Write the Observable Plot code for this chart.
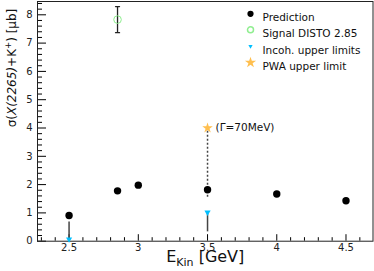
<!DOCTYPE html>
<html><head><meta charset="utf-8">
<script src="https://cdn.jsdelivr.net/npm/d3@7"></script>
<script src="https://cdn.jsdelivr.net/npm/@observablehq/plot@0.6"></script>
<style>
body{margin:0;background:#fff}
svg{display:block;font-family:"DejaVu Sans",sans-serif}
</style>
</head><body><div id="chart"></div>
<script>
// Prediction
const predE = [2.5, 2.85, 3.0, 3.5, 4.0, 4.5];
const predSigma = [0.91, 1.78, 1.98, 1.82, 1.67, 1.43];
// Signal DISTO 2.85
const distoE = [2.85];
const distoSigma = [7.83];
const distoErr = [0.46];
// Incoherent upper limits
const incohE = [2.5, 3.5];
const incohSigma = [0.07, 1.02];
const incohLow = [0.07, 0.33];
const incohHigh = [0.68, 1.02];
// PWA upper limit
const pwaE = [3.5];
const pwaSigma = [4.0];
const pwaLow = [1.55];
const pwaNote = ["(Γ=70MeV)"];
// ticks & labels
const xTicks = [2.5, 3, 3.5, 4, 4.5];
const yTicks = [0, 1, 2, 3, 4, 5, 6, 7, 8];
const xMinor = [2.3, 2.4, 2.6, 2.7, 2.8, 2.9, 3.1, 3.2, 3.3, 3.4, 3.6, 3.7, 3.8, 3.9, 4.1, 4.2, 4.3, 4.4, 4.6];
const yMinor = [0.2,0.4,0.6,0.8,1.2,1.4,1.6,1.8,2.2,2.4,2.6,2.8,3.2,3.4,3.6,3.8,4.2,4.4,4.6,4.8,5.2,5.4,5.6,5.8,6.2,6.4,6.6,6.8,7.2,7.4,7.6,7.8,8.2,8.4];
const legendLabels = ["Prediction", "Signal DISTO 2.85", "Incoh. upper limits", "PWA upper limit"];
const xLabel = "E_Kin [GeV]";
const yLabel = "σ(X(2265)+K+) [μb]";

const pred = predE.map((e, i) => ({e, s: predSigma[i]}));
const disto = distoE.map((e, i) => ({e, s: distoSigma[i], lo: distoSigma[i] - distoErr[i], hi: distoSigma[i] + distoErr[i]}));
const incoh = incohE.map((e, i) => ({e, s: incohSigma[i], lo: incohLow[i], hi: incohHigh[i]}));
const pwa = pwaE.map((e, i) => ({e, s: pwaSigma[i], lo: pwaLow[i], note: pwaNote[i]}));

const triDown = {draw(ctx, size) {
  const y = Math.sqrt(size / (Math.sqrt(3) * 3));
  ctx.moveTo(0, 2 * y); ctx.lineTo(-Math.sqrt(3) * y, -y); ctx.lineTo(Math.sqrt(3) * y, -y); ctx.closePath();
}};
const capShape = {draw(ctx, l) { ctx.moveTo(0, 0); ctx.lineTo(0, -l); }};

const C = {green: "#90ee90", blue: "#00bfff", star: "#ffbf4f", line: "#444"};
const legendMarks = [];
const rowY = [12.3, 28.3, 44.7, 61];
const markerStyles = [
  {fill: "black", r: 3.1},
  {fill: "none", stroke: C.green, r: 3},
  {fill: C.blue, r: 1.6, symbol: triDown},
  {fill: C.star, r: 3.5, symbol: "star"}
];
legendLabels.forEach((lab, i) => {
  legendMarks.push(Plot.dot([lab], {frameAnchor: "top-left", dx: 213, dy: rowY[i], ...markerStyles[i]}));
  legendMarks.push(Plot.text([lab], {text: d => d, frameAnchor: "top-left", dx: 225, dy: rowY[i], textAnchor: "start", fontSize: 10.5, fill: "#111"}));
});

const chart = Plot.plot({
  width: 374, height: 271,
  marginLeft: 37, marginRight: 1.5, marginTop: 1, marginBottom: 30.3,
  style: {fontFamily: "DejaVu Sans, sans-serif", background: "#fff"},
  x: {domain: [2.272, 4.695]},
  y: {domain: [0, 8.47]},
  marks: [
    Plot.axisX({ticks: xMinor, tickSize: -3.5, fill: "none", label: null}),
    Plot.axisX({ticks: xTicks, tickSize: -6.5, fill: "none", label: null}),
    Plot.axisX({ticks: xTicks, tickSize: 0, tickPadding: 3, tickFormat: d => String(d), label: null, fontSize: 10, fill: "#222"}),
    Plot.axisY({ticks: yMinor, tickSize: -5, fill: "none", label: null}),
    Plot.axisY({ticks: yTicks, tickSize: -9, fill: "none", label: null}),
    Plot.axisY({ticks: yTicks, tickSize: 0, tickPadding: 5, tickFormat: d => String(d), label: null, fontSize: 10, fill: "#222"}),
    Plot.frame({stroke: "#222"}),
    // PWA dotted line
    Plot.ruleX(pwa, {x: "e", y1: "lo", y2: "s", stroke: C.line, strokeWidth: 1.5, strokeDasharray: "2,2"}),
    // incoherent lines
    Plot.ruleX(incoh, {x: "e", y1: "lo", y2: "hi", stroke: C.line, strokeWidth: 1.5}),
    // DISTO error bar
    Plot.ruleX(disto, {x: "e", y1: "lo", y2: "hi", stroke: "#222", strokeWidth: 1.3}),
    Plot.vector(disto, {x: "e", y: "lo", length: 4, rotate: 90, anchor: "middle", shape: capShape, stroke: "#222", strokeWidth: 1.3}),
    Plot.vector(disto, {x: "e", y: "hi", length: 4, rotate: 90, anchor: "middle", shape: capShape, stroke: "#222", strokeWidth: 1.3}),
    Plot.dot(disto, {x: "e", y: "s", r: 3.8, stroke: C.green, fill: "none", strokeWidth: 1}),
    Plot.dot(pred, {x: "e", y: "s", r: 3.7, fill: "black"}),
    Plot.dot(incoh, {x: "e", y: "s", r: 2.3, fill: C.blue, symbol: triDown}),
    Plot.dot(pwa, {x: "e", y: "s", r: 3.3, fill: C.star, symbol: "star"}),
    Plot.text(pwa, {x: "e", y: "s", text: "note", dx: 8, textAnchor: "start", fontSize: 10.5, fill: "#111"}),
    ...legendMarks,
    Plot.text([yLabel], {text: d => d, frameAnchor: "left", dx: -25, dy: 6, rotate: -90, fontSize: 12, fill: "#111"}),
    Plot.text([xLabel], {text: d => d, frameAnchor: "bottom", dy: 21, fontSize: 16, fill: "#111"})
  ]
});
document.getElementById("chart").appendChild(chart);

// rich text for axis labels
const svg = d3.select(chart);
const byText = s => svg.selectAll("text").filter(function() { return this.textContent === s; });
const yt = byText(yLabel);
yt.text(null);
yt.append("tspan").text("σ(");
yt.append("tspan").attr("font-style", "italic").text("X(2265)");
yt.append("tspan").text("+K");
yt.append("tspan").attr("font-size", 8.5).attr("dy", -5).text("+");
yt.append("tspan").attr("dy", 5).text(") [μb]");
const xt = byText(xLabel);
xt.text(null);
xt.append("tspan").text("E");
xt.append("tspan").attr("font-size", 11).attr("dy", 4).text("Kin");
xt.append("tspan").attr("dy", -4).text(" [GeV]");
</script>
</body></html>
